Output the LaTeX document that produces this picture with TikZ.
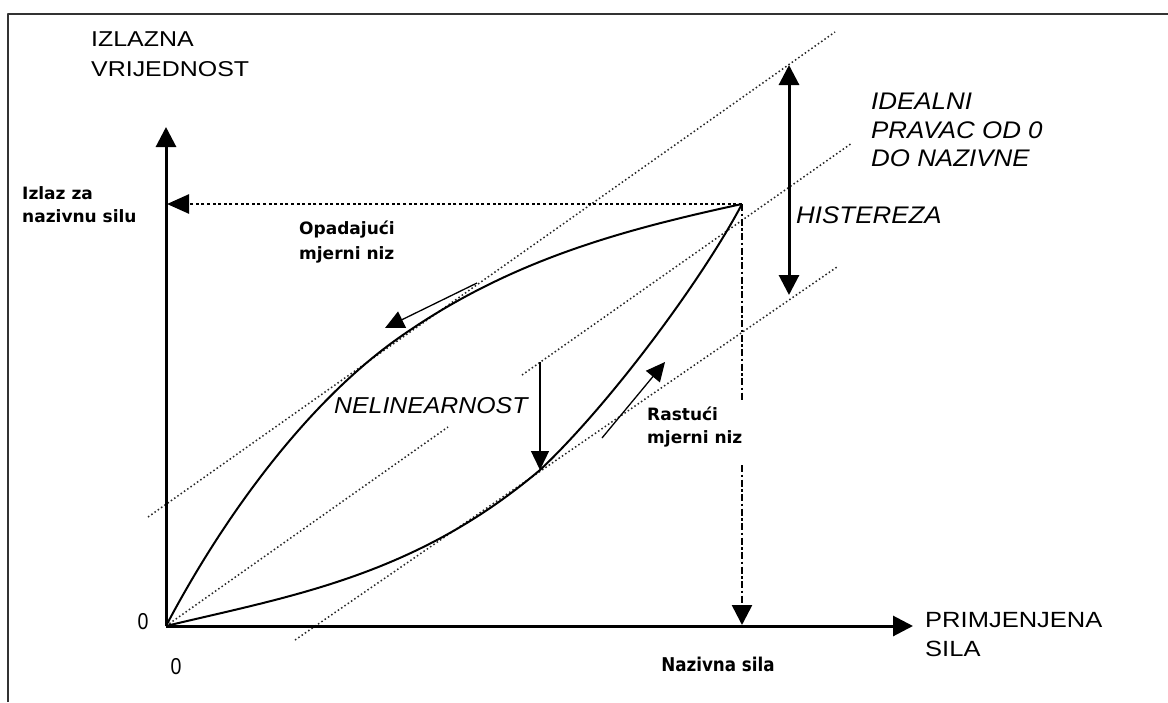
\documentclass[tikz,border=0pt]{standalone}
\usepackage{fontspec}
\usetikzlibrary{arrows.meta}
\newfontfamily\capsf{Liberation Sans}[FakeStretch=1.16]
\newfontfamily\itf{Liberation Sans}[FakeStretch=1.08]
\newfontfamily\digf{Liberation Sans}[FakeStretch=0.85]
\newfontfamily\boldf{DejaVu Sans}
\newfontfamily\condf{DejaVu Sans}[FakeStretch=0.88]
\begin{document}
\begin{tikzpicture}[x=1pt,y=-1pt,line join=round,
  bigtip/.tip={Triangle[length=20pt,width=20pt]},
  axis/.style={line width=3pt,-bigtip},
  curve/.style={line width=2pt},
  guide/.style={line width=1.5pt,dash pattern=on 1.5pt off 2.5pt,black!85},
  marker/.style={line width=2.5pt,dash pattern=on 3pt off 2.6pt},
  dashdot/.style={line width=2.6pt,dash pattern=on 7pt off 2.5pt on 2.5pt off 2.5pt},
  thinarrow/.style={line width=1.3pt,-{Triangle[length=19pt,width=18pt]}},
  lbl/.style={inner sep=0pt,anchor=north west,align=left},
  frameline/.style={line width=1.5pt,black!80}]
\useasboundingbox[fill=white] (0,0) rectangle (1168,702);
\draw[frameline] (8,702) -- (8,14) -- (1168,14);

% key points
\coordinate (O) at (166,626);
\coordinate (P) at (742,204);
\coordinate (ytop) at (166,127);
\coordinate (xend) at (913,626);
\coordinate (yP) at (167,204);
\coordinate (xPa) at (742,400);
\coordinate (xPb) at (742,465);
\coordinate (xP) at (742,625);
\coordinate (U) at (400,337);
\coordinate (L) at (540,470);

% guide lines (dotted)
\coordinate (u1) at (148,517); \coordinate (u2) at (835,32);
\coordinate (m2) at (448,427); \coordinate (m3) at (522,375); \coordinate (m4) at (852,143);
\coordinate (l1) at (295,640); \coordinate (l2) at (837,267);
\draw[guide] (u1) -- (u2);
\draw[guide] (O) -- (m2);
\draw[guide] (m3) -- (m4);
\draw[guide] (l1) -- (l2);

% curves
\draw[curve] (O) .. controls (226,512) and (310,400) .. (U)
                 .. controls (510,260) and (622,230) .. (P);
\draw[curve] (O) .. controls (291,596) and (415,576) .. (L)
                 .. controls (610,404) and (702,280) .. (P);

% axes
\draw[axis] (O) -- (ytop);
\draw[axis] (O) -- (xend);

% markers to axes
\draw[marker,-{Triangle[length=22pt,width=19pt]}] (P) -- (yP);
\draw[dashdot] (P) -- (xPa);
\draw[dashdot,-bigtip] (xPb) -- (xP);

% hysteresis
\coordinate (h1) at (789,65); \coordinate (h2) at (789,295);
\draw[line width=3pt,{Triangle[length=20pt,width=20pt]}-{Triangle[length=20pt,width=20pt]}] (h1) -- (h2);

% nonlinearity
\coordinate (n1) at (540,362);
\draw[thinarrow] (n1) -- (L);

% direction arrows
\coordinate (d1) at (477,283); \coordinate (d2) at (385,328);
\draw[thinarrow] (d1) -- (d2);
\coordinate (a1) at (602,438); \coordinate (a2) at (665,362);
\draw[thinarrow] (a1) -- (a2);

% labels
\node[lbl,font=\capsf\fontsize{21.5}{30}\selectfont] (ylab) at (91,32) {IZLAZNA\\VRIJEDNOST};
\node[lbl,font=\capsf\fontsize{22}{29}\selectfont] (xlab) at (925,612) {PRIMJENJENA\\SILA};
\node[lbl,font=\boldf\bfseries\fontsize{17}{23}\selectfont] (izlaz) at (22,186) {Izlaz za\\nazivnu silu};
\node[lbl,font=\boldf\bfseries\fontsize{17}{25}\selectfont] (opad) at (299,221) {Opadaju\'ci\\mjerni niz};
\node[lbl,font=\boldf\bfseries\fontsize{17}{23}\selectfont] (rast) at (647,407) {Rastu\'ci\\mjerni niz};
\node[lbl,font=\itf\itshape\fontsize{24}{28.5}\selectfont] (ideal) at (871,93) {IDEALNI\\PRAVAC OD 0\\DO NAZIVNE};
\node[lbl,font=\itf\itshape\fontsize{24}{28}\selectfont] (hist) at (796,207) {HISTEREZA};
\node[lbl,font=\itf\itshape\fontsize{23}{28}\selectfont] (nelin) at (334,397) {NELINEARNOST};
\node[inner sep=0pt,font=\digf\fontsize{23}{28}\selectfont] (zy) at (143,622) {0};
\node[inner sep=0pt,font=\digf\fontsize{23}{28}\selectfont] (zx) at (176,667) {0};
\node[inner sep=0pt,font=\condf\bfseries\fontsize{19}{24}\selectfont] (nsila) at (718,664) {Nazivna sila};
\end{tikzpicture}
\end{document}
